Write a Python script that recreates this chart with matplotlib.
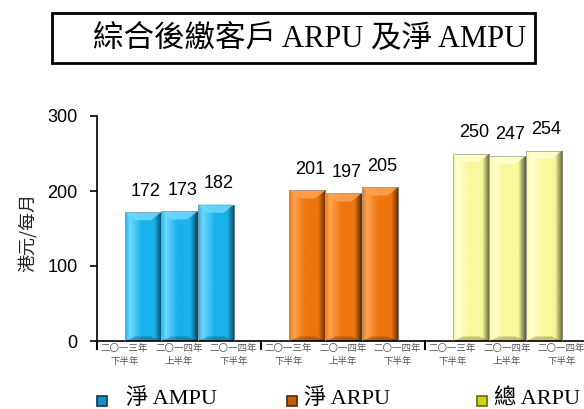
import numpy as np
import matplotlib
matplotlib.use('Agg')
import matplotlib.pyplot as plt
from matplotlib.colors import LinearSegmentedColormap
from matplotlib.patches import Rectangle, Polygon

# 數據
series_names = ['淨 AMPU', '淨 ARPU', '總 ARPU']
values_ampu = [172, 173, 182]
values_net_arpu = [201, 197, 205]
values_total_arpu = [250, 247, 254]
period_top = ['二〇一三年', '二〇一四年', '二〇一四年']
period_bottom = ['下半年', '上半年', '下半年']
y_ticks = [0, 100, 200, 300]

# 每組的顏色: (亮, 主色, 暗)
palette = [
    ('#6fd8ff', '#1ab2ea', '#08435e'),
    ('#ffa451', '#ee760e', '#5e2a00'),
    ('#ffffd0', '#f8f89c', '#5e5e38'),
]
legend_colors = [('#1a8ec6', '#0a3a55'), ('#c85a08', '#5a2500'), ('#d2d210', '#6a6a10')]

CJK = ['Noto Sans CJK TC', 'DejaVu Sans']
SERIF = ['Liberation Serif', 'Noto Sans CJK TC']
SANS = ['Liberation Sans', 'DejaVu Sans']

W, H = 584, 409
fig = plt.figure(figsize=(W / 100, H / 100), dpi=100)
ax = fig.add_axes([97 / W, 1 - 341 / H, (W - 97) / W, (341 - 116) / H])

bar_w = 0.221
group_data = [values_ampu, values_net_arpu, values_total_arpu]


def bevel_bar(ax, xc, h, colors):
    light, main, dark = colors
    cmap = LinearSegmentedColormap.from_list(
        'bev', [(0, main), (0.12, light), (0.45, main), (0.8, main), (1.0, dark)])
    x0 = xc - bar_w / 2
    rect = Rectangle((x0, 0), bar_w, h, facecolor='none', edgecolor='#9a9a9a',
                     linewidth=0.5, zorder=3)
    ax.add_patch(rect)
    grad = np.linspace(0, 1, 64).reshape(1, -1)
    im = ax.imshow(grad, cmap=cmap, extent=[x0, x0 + bar_w, 0, h],
                   aspect='auto', origin='lower', zorder=2)
    im.set_clip_path(rect)
    # 頂部斜面
    d = 11
    top = Polygon([(x0, h), (x0 + bar_w, h), (x0 + bar_w * 0.72, h - d),
                   (x0 + bar_w * 0.28, h - d)], closed=True,
                  facecolor=light, edgecolor='none', alpha=0.85, zorder=2.5)
    ax.add_patch(top)
    # 底部斜面
    bot = Polygon([(x0, 0), (x0 + bar_w, 0), (x0 + bar_w * 0.72, 6),
                   (x0 + bar_w * 0.28, 6)], closed=True,
                  facecolor=dark, edgecolor='none', alpha=0.35, zorder=2.5)
    ax.add_patch(bot)


for g, vals in enumerate(group_data):
    for j, v in enumerate(vals):
        xc = g + 0.503 + (j - 1) * bar_w
        bevel_bar(ax, xc, v, palette[g])
        ax.annotate(str(v), (xc, v), xytext=(2, 9), textcoords='offset points',
                    ha='center', va='bottom', fontsize=13, family=SANS)
        # 期間標籤
        xl = g + (j + 0.5) / 3
        ax.text(xl, -4, period_top[j], ha='center', va='top', fontsize=6.8,
                color='#555555', family=CJK)
        ax.text(xl, -21, period_bottom[j], ha='center', va='top', fontsize=6.8,
                color='#555555', family=CJK)

ax.set_xlim(0, (W - 97) / 164)
ax.set_ylim(0, 300)
ax.set_yticks(y_ticks)
ax.set_yticklabels([str(t) for t in y_ticks], family=SANS, fontsize=13)
ax.tick_params(axis='y', direction='out', length=5, width=1.2, pad=9)
ax.set_xticks([])
for s in ['top', 'right']:
    ax.spines[s].set_visible(False)
ax.spines['left'].set_linewidth(1.2)
ax.spines['bottom'].set_linewidth(1.2)
ax.set_facecolor('none')

# 組別分隔刻度
for g in range(4):
    ax.plot([g, g], [0, -11], color='black', linewidth=1.5, clip_on=False)

fig.text(27 / W, 1 - 232 / H, '港元/每月', rotation=90, ha='center', va='center',
         fontsize=13, family=CJK, color='#222222', fontweight='light')

# 標題框
fig.patches.append(Rectangle((52 / W, 1 - 63 / H), (535 - 52) / W, 50 / H,
                             transform=fig.transFigure, facecolor='white',
                             edgecolor='black', linewidth=2))
fig.text(310 / W, 1 - 39 / H, '綜合後繳客戶 ARPU 及淨 AMPU', ha='center', va='center',
         fontsize=22, family=SERIF, fontweight='light')

# 圖例
legend_marker_x = [97, 287, 477]
legend_text_x = [126, 304, 494]
for k, name in enumerate(series_names):
    main, dark = legend_colors[k]
    fig.patches.append(Rectangle((legend_marker_x[k] / W, 1 - 406 / H), 10 / W, 10 / H,
                                 transform=fig.transFigure, facecolor=main,
                                 edgecolor=dark, linewidth=1.2))
    fig.text(legend_text_x[k] / W, 1 - 399 / H, name, ha='left', va='center',
             fontsize=16, family=SERIF, fontweight='light')

fig.savefig('out.png', dpi=100)
